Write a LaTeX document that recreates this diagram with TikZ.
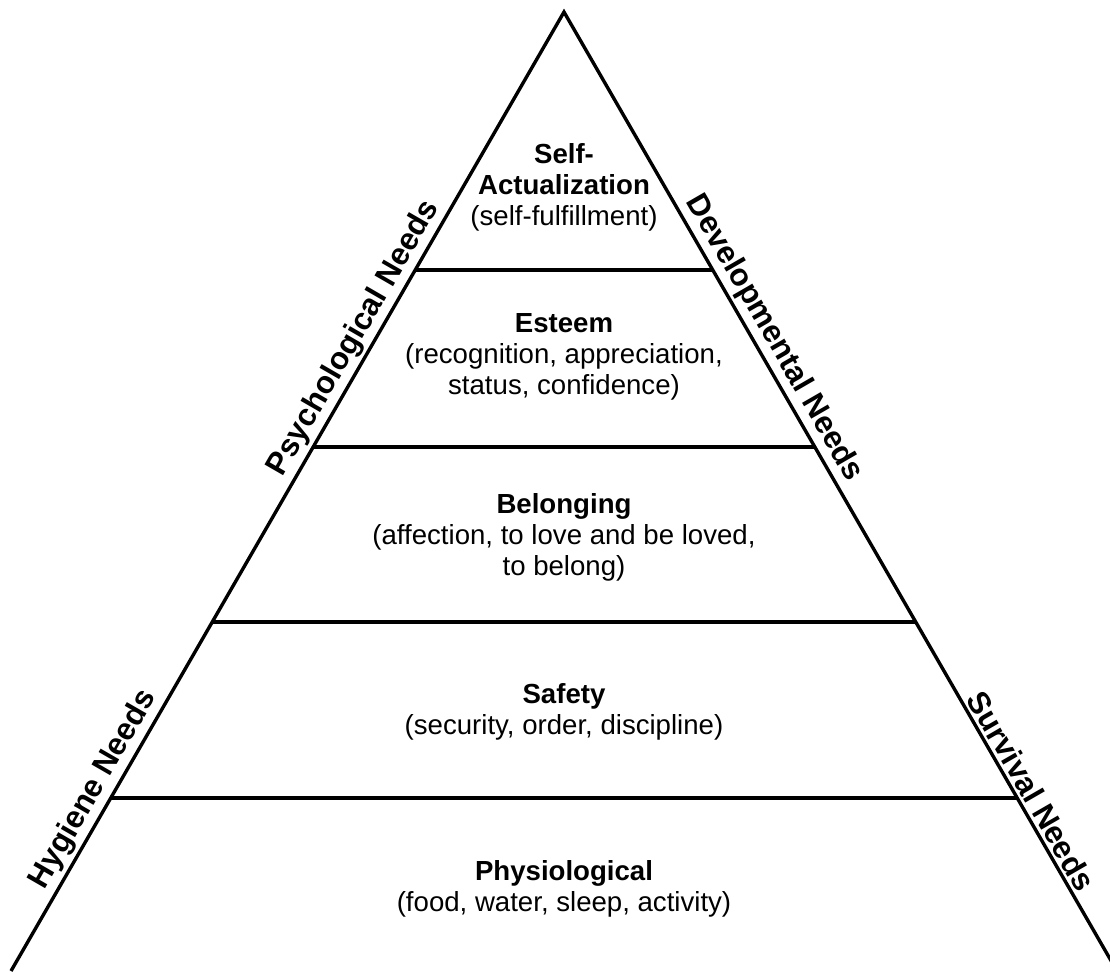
\documentclass[tikz,border=0pt]{standalone}
\usepackage{fontspec}
\setmainfont{Liberation Sans}
\usetikzlibrary{calc}
\tikzset{
  side/.style={line width=1.7pt, line join=miter},
  tier/.style={line width=1.6pt},
  lvl/.style={align=center, inner sep=0pt,
              font=\fontsize{13.8}{15.5}\selectfont},
  need/.style={anchor=south, inner sep=2pt,
               font=\fontsize{15.6}{18}\selectfont\bfseries},
}

\begin{document}
\begin{tikzpicture}[x=0.5pt,y=-0.5pt]
\useasboundingbox (0,0) rectangle (1110,971);

% ---- outline ----
\coordinate (apex) at (564,12);
\coordinate (bl) at (11,971);
\coordinate (br) at (1117,971);
\draw[side] (bl) -- (apex) -- (br);

% ---- tiers ----
\foreach \f [count=\i] in {0.269,0.4536,0.636,0.8196}{
  \coordinate (l\i) at ($(apex)!\f!(bl)$);
  \coordinate (r\i) at ($(apex)!\f!(br)$);
  \draw[tier] (l\i) -- (r\i);
}

% ---- levels ----
\node[lvl] (selfact) at (564,187) {\textbf{Self-}\\\textbf{Actualization}\\(self-fulfillment)};
\node[lvl] (esteem) at (564,357) {\textbf{Esteem}\\(recognition, appreciation,\\status, confidence)};
\node[lvl] (belong) at (564,537) {\textbf{Belonging}\\(affection, to love and be loved,\\to belong)};
\node[lvl] (safety) at (564,712) {\textbf{Safety}\\(security, order, discipline)};
\node[lvl] (physio) at (564,889) {\textbf{Physiological}\\(food, water, sleep, activity)};

% ---- side labels ----
\node[need, rotate=60]  (psych) at ($(apex)!0.35!(bl)$)   {Psychological Needs};
\node[need, rotate=60]  (hyg)   at ($(apex)!0.8207!(bl)$) {Hygiene Needs};
\node[need, rotate=-60] (dev)   at ($(apex)!0.35!(br)$)   {Developmental Needs};
\node[need, rotate=-60] (surv)  at ($(apex)!0.8207!(br)$) {Survival Needs};

\end{tikzpicture}
\end{document}
